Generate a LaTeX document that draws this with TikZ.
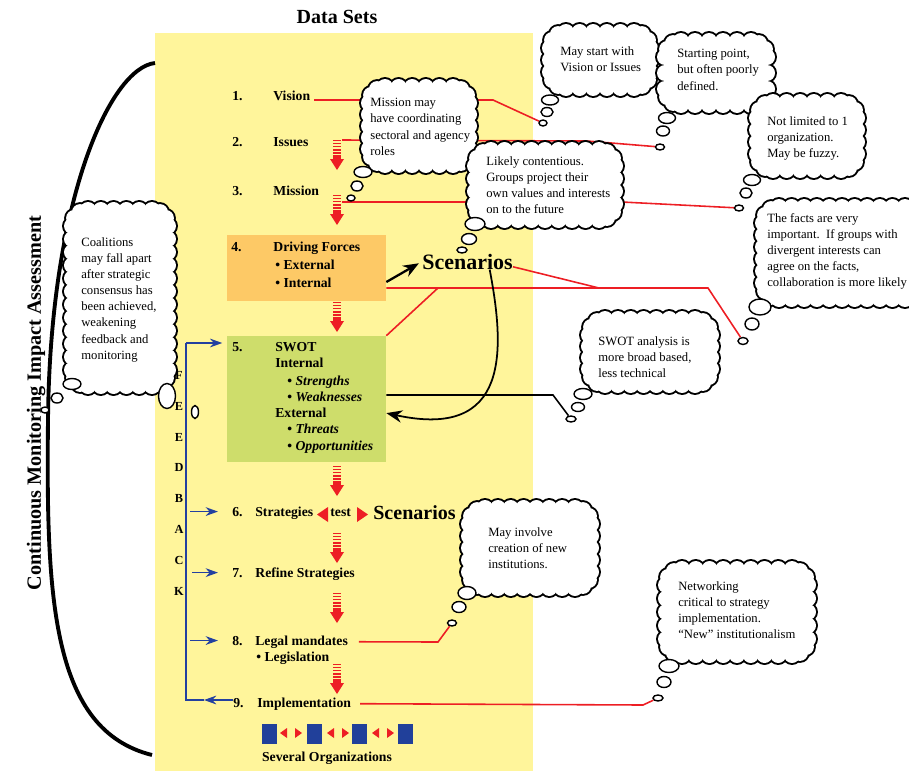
\documentclass[tikz,border=0pt]{standalone}
\usepackage{fontspec}
\setmainfont{Liberation Serif}
\usetikzlibrary{shapes.geometric,arrows.meta,positioning}
\usepackage{xcolor}
\definecolor{pageyellow}{RGB}{255,245,155}
\definecolor{forceorange}{RGB}{253,201,102}
\definecolor{swotgreen}{RGB}{206,221,107}
\definecolor{linkred}{RGB}{237,30,36}
\definecolor{fbblue}{RGB}{35,64,160}
\definecolor{orgblue}{RGB}{33,64,154}
\pgfdeclarelayer{back}
\pgfsetlayers{back,main}
\tikzset{
  stage/.style={font=\bfseries\fontsize{7.8}{9}\selectfont, inner sep=0pt, anchor=base west},
  remark/.style={font=\fontsize{7.2}{9.2}\selectfont, align=left, inner sep=0pt, anchor=north west},
  cloudedge/.style={draw, fill=white, line width=2.2pt},
  cloudfill/.style={fill=white},
  puff/.style 2 args={ellipse, draw, fill=white, line width=.8pt, inner sep=0pt,
    minimum width=#1*0.02cm, minimum height=#2*0.02cm},
  redlink/.style={linkred, line width=.9pt},
  fbline/.style={fbblue, line width=.9pt},
  fbarrow/.style={fbblue, line width=.9pt, -{Stealth[length=7pt,width=5pt]}},
}
% one ring of puffs round a rounded box (uses \cldA, \cldB, \cldNx, \cldNy)
\newcommand{\cloudring}[3]{%
  \foreach \i in {0,...,\cldNx}
    \path[#1] ({#2-\cldA+16+2*(\cldA-16)*\i/\cldNx},{#3-\cldB}) circle[radius=0.16cm]
      ({#2-\cldA+16+2*(\cldA-16)*\i/\cldNx},{#3+\cldB}) circle[radius=0.16cm];
  \foreach \i in {0,...,\cldNy}
    \path[#1] ({#2-\cldA},{#3-\cldB+16+2*(\cldB-16)*\i/\cldNy}) circle[radius=0.16cm]
      ({#2+\cldA},{#3-\cldB+16+2*(\cldB-16)*\i/\cldNy}) circle[radius=0.16cm];
  \foreach \sx/\sy in {-1/-1,-1/1,1/-1,1/1}
    \path[#1] ({#2+\sx*(\cldA-2.1)},{#3+\sy*(\cldB-8)}) circle[radius=0.16cm]
      ({#2+\sx*(\cldA-8)},{#3+\sy*(\cldB-2.1)}) circle[radius=0.16cm];
}
% name, centre x, centre y, width, height
\newcommand{\thoughtcloud}[5]{%
  \pgfmathsetmacro{\cldA}{#4/2-8}%
  \pgfmathsetmacro{\cldB}{#5/2-8}%
  \pgfmathtruncatemacro{\cldNx}{max(1,round(2*(\cldA-16)/13))}%
  \pgfmathtruncatemacro{\cldNy}{max(1,round(2*(\cldB-16)/13))}%
  \cloudring{cloudedge}{#2}{#3}%
  \cloudring{cloudfill}{#2}{#3}%
  \fill[white, rounded corners=6pt] (#2-\cldA,#3-\cldB) rectangle (#2+\cldA,#3+\cldB);
  \node[inner sep=0pt, minimum width=#4*0.02cm, minimum height=#5*0.02cm] (#1) at (#2,#3) {};
}

\begin{document}
\begin{tikzpicture}[x=0.02cm, y=-0.02cm]
\useasboundingbox (0,0) rectangle (909,771);
\clip (0,0) rectangle (909,771);
\begin{pgfonlayer}{back}
\fill[pageyellow] (155,33) rectangle (533,771);
\end{pgfonlayer}
\node[font=\bfseries\fontsize{11.4}{12}\selectfont, anchor=base] (datasets) at (337,23) {Data Sets};

% monitoring bracket
\draw[line width=2.2pt] (155,63) .. controls (110,68) and (50,200) .. (48,420) .. controls (46,600) and (52,730) .. (152,755);
\node[rotate=90, font=\bfseries\fontsize{11.5}{12}\selectfont] (monitor) at (36,403) {Continuous Monitoring Impact Assessment};

% boxes 4 and 5
\node[fill=forceorange, inner sep=0pt, minimum width=159*0.02cm, minimum height=66*0.02cm] (forces) at (306.5,268) {};
\node[fill=swotgreen, inner sep=0pt, minimum width=159*0.02cm, minimum height=126*0.02cm] (swot) at (306.5,399) {};

% steps
\node[stage] (n1) at (232,100) {1.};
\node[stage] (vision) at (273,100) {Vision};
\node[stage] (n2) at (232,146) {2.};
\node[stage] (issues) at (273,146) {Issues};
\node[stage] (n3) at (232,195) {3.};
\node[stage] (mission) at (273,195) {Mission};
\node[stage] (n4) at (231,251) {4.};
\node[stage] (drive) at (273,251) {Driving Forces};
\node[stage] (ext) at (275,269) {\textbullet\ External};
\node[stage] (int) at (275,287) {\textbullet\ Internal};
\node[stage] (n5) at (232,351) {5.};
\node[stage] (swotT) at (275,351) {SWOT};
\node[stage] (intl) at (275,367) {Internal};
\node[stage] (str) at (287,385) {\textbullet\ \textit{Strengths}};
\node[stage] (weak) at (287,401) {\textbullet\ \textit{Weaknesses}};
\node[stage] (extl) at (275,417) {External};
\node[stage] (thr) at (287,433) {\textbullet\ \textit{Threats}};
\node[stage] (opp) at (287,450) {\textbullet\ \textit{Opportunities}};
\node[stage] (n6) at (232,516) {6.};
\node[stage] (strat) at (255,516) {Strategies};
\node[stage] (test) at (330,516) {test};
\node[stage, font=\bfseries\fontsize{11.4}{12}\selectfont] (scen2) at (373,519) {Scenarios};
\node[stage] (n7) at (232,577) {7.};
\node[stage] (refine) at (255,577) {Refine Strategies};
\node[stage] (n8) at (232,645) {8.};
\node[stage] (legal) at (255,645) {Legal mandates};
\node[stage] (legis) at (256,661) {\textbullet\ Legislation};
\node[stage] (n9) at (233,707) {9.};
\node[stage] (impl) at (257,707) {Implementation};
\node[stage, font=\bfseries\fontsize{12.5}{13}\selectfont] (scen1) at (422,269) {Scenarios};
\node[font=\bfseries\fontsize{7.8}{9}\selectfont, anchor=base] (several) at (327,761) {Several Organizations};

% test triangles
\fill[linkred] (328,507) -- (328,522) -- (317,514.5) -- cycle;
\fill[linkred] (357,507) -- (357,522) -- (368,514.5) -- cycle;

% organizations
\foreach \x in {262,307,352,398} \fill[orgblue] (\x,724) rectangle ++(15,20);
\foreach \x in {280,327,372} {
  \fill[linkred] (\x,733) -- ++(7,-5) -- ++(0,10) -- cycle;
  \fill[linkred] (\x+22,733) -- ++(-7,-5) -- ++(0,10) -- cycle;
}

% red step arrows
\foreach \y in {140,195,302,466,533,593,664} {
  \foreach \k in {0,...,4}
    \fill[linkred] (333,\y+\k*3) rectangle (341,\y+\k*3+0.8+\k*0.3);
  \fill[linkred] (333,\y+15) rectangle (341,\y+20);
  \fill[linkred] (330,\y+19) -- (344,\y+19) -- (337,\y+30) -- cycle;
}

% feedback
\coordinate (fbtop) at (186,343);
\coordinate (fbbot) at (186,700);
\coordinate (fbmid) at (204,700);
\draw[fbline] (fbmid) -- (fbbot) -- (fbtop);
\draw[fbarrow] (n9.west |- fbbot) -- (fbmid);
\draw[fbarrow, shorten >=2.5pt] (fbtop) -- (swot.west |- fbtop);
\draw[fbarrow, shorten >=8pt] (190,0 |- n6.west) -- (n6.west);
\draw[fbarrow, shorten >=8pt] (192,0 |- n7.west) -- (n7.west);
\draw[fbarrow, shorten >=8pt] (190,0 |- n8.west) -- (n8.west);
\foreach \l/\y in {F/375,E/406,E/437,D/467,B/498,A/529,C/560,K/591}
  \node[font=\bfseries\fontsize{7}{8}\selectfont, inner sep=0pt] at (179,\y) {\l};

% scenario arrows
\draw[line width=1.3pt, -{Stealth[length=9pt,width=7pt]}, shorten >=2pt] (forces.east |- 0,282) -- (scen1.west);
\draw[line width=1pt, -{Stealth[length=9pt,width=7pt]}] (scen1.-20) .. controls (505,350) and (510,440) .. (swot.-10);

% thought clouds
\foreach \nm/\x/\y/\w/\h in {c1/600/60/116/72, c2/716/73/118/80, c3/807/136/116/84,
    c4/842/253/174/108, c5/650/352/138/82, c6/419/126/116/94, c7/545/185/156/86,
    c8/120/298/112/192, c9/530/548/138/96, c10/737/612/158/102}
  {\thoughtcloud{\nm}{\x}{\y}{\w}{\h}}
\foreach \nm/\x/\y/\w/\h in {p1a/550/100/17/10, p1b/547/112/12/9, p1/543/123/8/6,
    p2a/667/118/17/11, p2b/663/131/13/10, p2/660/147/9/6,
    p3a/752/180/17/11, p3b/746/193/12/10, p3/739/208/9/6,
    p4a/760/307/22/16, p4b/752/324/14/12, p4/743/341/10/7,
    p5a/583/394/18/11, p5b/578/407/13/9, p5/571/419/10/6,
    p6a/363/172/18/11, p6b/357/186/12/10, p6/351/198/8/6,
    p7a/475/224/20/13, p7b/469/239/15/11, p7/462/250/10/6,
    p8a/72/384/18/11, p8b/57/398/12/10, p8c/45/410/8/6, p8d/167/396/17/25, p8/195/412/7/13,
    p9a/467/593/18/13, p9b/459/607/14/11, p9/452/623/9/6,
    p10a/669/666/20/13, p10b/664/682/14/11, p10/658/698/10/6}
  \node[puff={\w}{\h}] (\nm) at (\x,\y) {};

\node[remark] (t1) at (560,46) {May start with\\Vision or Issues};
\node[remark] (t2) at (677,49) {Starting point,\\but often poorly\\defined.};
\node[remark] (t3) at (767,116) {Not limited to 1\\organization.\\May be fuzzy.};
\node[remark] (t4) at (767,213) {The facts are very\\important.\ \ If groups with\\divergent interests can\\agree on the facts,\\collaboration is more likely};
\node[remark] (t5) at (598,336) {SWOT analysis is\\more broad based,\\less technical};
\node[remark] (t6) at (370,98) {Mission may\\have coordinating\\sectoral and agency\\roles};
\node[remark] (t7) at (486,156) {Likely contentious.\\Groups project their\\own values and interests\\on to the future};
\node[remark] (t8) at (81,237) {Coalitions\\may fall apart\\after strategic\\consensus has\\been achieved,\\weakening\\feedback and\\monitoring};
\node[remark] (t9) at (488,527) {May involve\\creation of new\\institutions.};
\node[remark] (t10) at (678,581) {Networking\\critical to strategy\\implementation.\\``New'' institutionalism};

% links to the notes
\coordinate (issuesout) at (342,140);
\coordinate (missionout) at (342,202);
\begin{pgfonlayer}{back}
\draw[redlink] ([xshift=2pt]vision.base east) -- (493,100) -- (p1);
\draw[redlink] (issuesout) -- (587,141) -- (p2);
\draw[redlink] (missionout) -- (622,202) -- (p3);
\draw[redlink] (forces.east |- 0,288) -- (708,288) -- (p4);
\draw[redlink] ([yshift=-3pt]scen1.east) -- (599,288);
\draw[redlink] (swot.north east) -- (438,288);
\draw[redlink] ([xshift=6pt]legal.east) -- (438,642) -- (p9);
\draw[redlink] ([xshift=5pt]impl.east) -- (643,705) -- (p10);
\draw[line width=.9pt] (swot.east |- 0,395) -- (553,395) -- (p5);
\end{pgfonlayer}
\end{tikzpicture}
\end{document}
